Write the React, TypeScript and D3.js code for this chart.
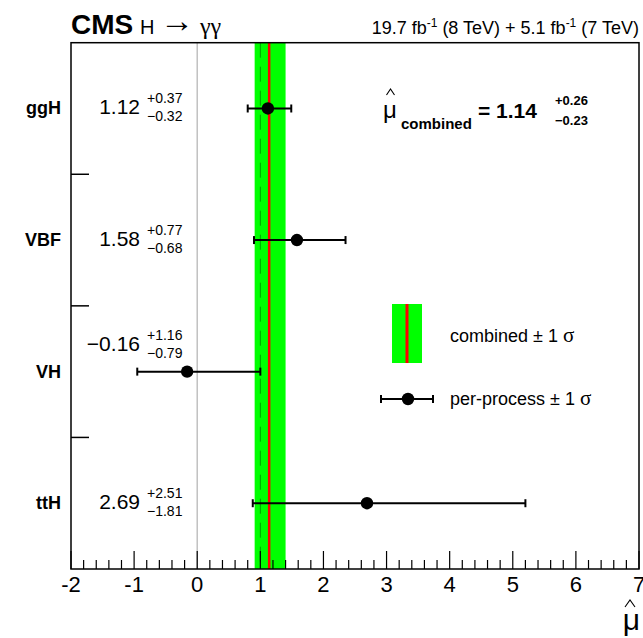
import React, { useRef, useEffect } from 'react';
import * as d3 from 'd3';

// per-process signal strengths
const categories = ['ggH', 'VBF', 'VH', 'ttH'];
const muValues = [1.12, 1.58, -0.16, 2.69];
const errUp = [0.37, 0.77, 1.16, 2.51];
const errDown = [0.32, 0.68, 0.79, 1.81];

// combined fit
const combinedMu = 1.14;
const combinedUp = 0.26;
const combinedDown = 0.23;
const smMu = 1;

const xTickValues = [-2, -1, 0, 1, 2, 3, 4, 5, 6, 7];
const xTickLabels = ['-2', '-1', '0', '1', '2', '3', '4', '5', '6', '7'];

const W = 643;
const H = 638;
const FONT = '"Liberation Sans", Arial, Helvetica, sans-serif';
const GREEK = '"Liberation Serif", "DejaVu Serif", serif';

const App: React.FC = () => {
  const svgRef = useRef<SVGSVGElement | null>(null);

  useEffect(() => {
    document.body.style.margin = '0';
    if (!svgRef.current) return;
    const svg = d3.select(svgRef.current);
    svg.selectAll('*').remove();

    const left = 71, right = 639, top = 42.7, bottom = 569;

    const x = d3.scaleLinear().domain([-2, 7]).range([left, right]);
    const y = d3.scaleBand<string>().domain(categories).range([top, bottom]);
    const yc = (c: string) => (y(c) as number) + y.bandwidth() / 2;

    const fmt = d3.format('.2f');
    const num = (v: number) => fmt(v).replace('-', '\u2212');

    // combined band
    svg.append('rect')
      .attr('x', x(combinedMu - combinedDown))
      .attr('y', top)
      .attr('width', x(combinedMu + combinedUp) - x(combinedMu - combinedDown))
      .attr('height', bottom - top)
      .attr('fill', '#00ff00');

    // SM line
    svg.append('line')
      .attr('x1', x(smMu)).attr('x2', x(smMu))
      .attr('y1', top).attr('y2', bottom)
      .attr('stroke', '#00a000')
      .attr('stroke-width', 1)
      .attr('stroke-dasharray', '15,9');

    svg.append('line')
      .attr('x1', x(combinedMu)).attr('x2', x(combinedMu))
      .attr('y1', top).attr('y2', bottom)
      .attr('stroke', '#ff0000')
      .attr('stroke-width', 2.5);

    // zero line
    svg.append('line')
      .attr('x1', x(0)).attr('x2', x(0))
      .attr('y1', top).attr('y2', bottom)
      .attr('stroke', '#c0c0c0')
      .attr('stroke-width', 1.5);

    // frame
    svg.append('rect')
      .attr('x', left).attr('y', top)
      .attr('width', right - left).attr('height', bottom - top)
      .attr('fill', 'none')
      .attr('stroke', '#000')
      .attr('stroke-width', 1.5);

    // x ticks
    const minor = d3.range(-2, 7.0001, 0.2);
    svg.append('g').selectAll('line')
      .data(minor)
      .join('line')
      .attr('x1', d => x(d)).attr('x2', d => x(d))
      .attr('y1', bottom)
      .attr('y2', d => (Math.abs(d - Math.round(d)) < 1e-6 ? bottom - 18 : bottom - 9))
      .attr('stroke', '#000')
      .attr('stroke-width', 1.2);

    svg.append('g').selectAll('text')
      .data(xTickValues)
      .join('text')
      .attr('x', d => x(d))
      .attr('y', 592)
      .attr('text-anchor', 'middle')
      .attr('font-family', FONT)
      .attr('font-size', 22)
      .text((d, i) => xTickLabels[i]);

    // y ticks at category boundaries
    svg.append('g').selectAll('line')
      .data(categories.slice(1))
      .join('line')
      .attr('x1', left).attr('x2', left + 18)
      .attr('y1', d => y(d) as number).attr('y2', d => y(d) as number)
      .attr('stroke', '#000')
      .attr('stroke-width', 1.5);

    svg.append('g').selectAll('text')
      .data(categories)
      .join('text')
      .attr('x', 61)
      .attr('y', d => yc(d) + 6)
      .attr('text-anchor', 'end')
      .attr('font-family', FONT)
      .attr('font-weight', 'bold')
      .attr('font-size', 18)
      .text(d => d);

    // error bars
    const g = svg.append('g');
    categories.forEach((c, i) => {
      const cy = yc(c);
      const lo = x(muValues[i] - errDown[i]);
      const hi = x(muValues[i] + errUp[i]);
      g.append('line')
        .attr('x1', lo).attr('x2', hi).attr('y1', cy).attr('y2', cy)
        .attr('stroke', '#000').attr('stroke-width', 2);
      [lo, hi].forEach(px => {
        g.append('line')
          .attr('x1', px).attr('x2', px).attr('y1', cy - 4).attr('y2', cy + 4)
          .attr('stroke', '#000').attr('stroke-width', 2);
      });
      g.append('circle')
        .attr('cx', x(muValues[i])).attr('cy', cy).attr('r', 6.2)
        .attr('fill', '#000');

      // value labels (VH label sits above its point)
      const base = cy + (c === 'VH' ? -21 : 6);
      g.append('text')
        .attr('x', 140).attr('y', base)
        .attr('text-anchor', 'end')
        .attr('font-family', FONT).attr('font-size', 21)
        .text(num(muValues[i]));
      g.append('text')
        .attr('x', 147).attr('y', base - 11)
        .attr('font-family', FONT).attr('font-size', 14)
        .text('+' + num(errUp[i]));
      g.append('text')
        .attr('x', 147).attr('y', base + 7)
        .attr('font-family', FONT).attr('font-size', 14)
        .text('\u2212' + num(errDown[i]));
    });

    const hat = (cx: number, yb: number, w: number, h: number) => {
      svg.append('path')
        .attr('d', `M${cx - w / 2},${yb} L${cx},${yb - h} L${cx + w / 2},${yb}`)
        .attr('fill', 'none')
        .attr('stroke', '#000')
        .attr('stroke-width', 1.1);
    };

    // combined result text
    svg.append('text')
      .attr('x', 383).attr('y', 118)
      .attr('font-family', FONT).attr('font-size', 24)
      .text('\u03bc');
    hat(390.5, 95, 8, 6);
    svg.append('text')
      .attr('x', 401).attr('y', 129)
      .attr('font-family', FONT).attr('font-weight', 'bold').attr('font-size', 15)
      .text('combined');
    svg.append('text')
      .attr('x', 478).attr('y', 118)
      .attr('font-family', FONT).attr('font-weight', 'bold').attr('font-size', 21)
      .text('= ' + fmt(combinedMu));
    svg.append('text')
      .attr('x', 555).attr('y', 105)
      .attr('font-family', FONT).attr('font-weight', 'bold').attr('font-size', 13)
      .text('+' + fmt(combinedUp));
    svg.append('text')
      .attr('x', 555).attr('y', 125)
      .attr('font-family', FONT).attr('font-weight', 'bold').attr('font-size', 13)
      .text('\u2212' + fmt(combinedDown));

    // legend
    svg.append('rect')
      .attr('x', 392).attr('y', 304).attr('width', 30).attr('height', 59)
      .attr('fill', '#00ff00');
    svg.append('line')
      .attr('x1', 407).attr('x2', 407).attr('y1', 304).attr('y2', 363)
      .attr('stroke', '#ff0000').attr('stroke-width', 3);
    const leg1 = svg.append('text')
      .attr('x', 450).attr('y', 342)
      .attr('font-family', FONT).attr('font-size', 18);
    leg1.append('tspan').text('combined \u00b1 1 ');
    leg1.append('tspan').attr('font-family', GREEK).attr('font-size', 21).text('\u03c3');
    const ly = 399;
    svg.append('line')
      .attr('x1', 381).attr('x2', 433).attr('y1', ly).attr('y2', ly)
      .attr('stroke', '#000').attr('stroke-width', 2);
    [381, 433].forEach(px => {
      svg.append('line')
        .attr('x1', px).attr('x2', px).attr('y1', ly - 4).attr('y2', ly + 4)
        .attr('stroke', '#000').attr('stroke-width', 2);
    });
    svg.append('circle').attr('cx', 408).attr('cy', ly).attr('r', 6.2).attr('fill', '#000');
    const leg2 = svg.append('text')
      .attr('x', 450).attr('y', 405)
      .attr('font-family', FONT).attr('font-size', 18);
    leg2.append('tspan').text('per-process \u00b1 1 ');
    leg2.append('tspan').attr('font-family', GREEK).attr('font-size', 21).text('\u03c3');

    // header
    svg.append('text')
      .attr('x', 71).attr('y', 34)
      .attr('font-family', FONT).attr('font-weight', 'bold').attr('font-size', 28)
      .text('CMS');
    const proc = svg.append('text')
      .attr('x', 140).attr('y', 34)
      .attr('font-family', FONT).attr('font-size', 20);
    proc.append('tspan').text('H ');
    proc.append('tspan').attr('font-size', 34).attr('dy', -2).text('\u2192');
    proc.append('tspan').attr('font-family', GREEK).attr('font-size', 24).attr('dy', 2).text(' \u03b3\u03b3');
    const lumi = svg.append('text')
      .attr('x', 639).attr('y', 34)
      .attr('text-anchor', 'end')
      .attr('font-family', FONT).attr('font-size', 18);
    lumi.append('tspan').text('19.7 fb');
    lumi.append('tspan').attr('dy', -7).attr('font-size', 12).text('-1');
    lumi.append('tspan').attr('dy', 7).text(' (8 TeV) + 5.1 fb');
    lumi.append('tspan').attr('dy', -7).attr('font-size', 12).text('-1');
    lumi.append('tspan').attr('dy', 7).text(' (7 TeV)');

    // x axis title
    svg.append('text')
      .attr('x', 640).attr('y', 630)
      .attr('text-anchor', 'end')
      .attr('font-family', FONT).attr('font-size', 30)
      .text('\u03bc');
    hat(630, 607, 10, 7);
  }, []);

  return <svg ref={svgRef} width={W} height={H} style={{ display: 'block', background: '#fff' }} />;
};

export default App;
